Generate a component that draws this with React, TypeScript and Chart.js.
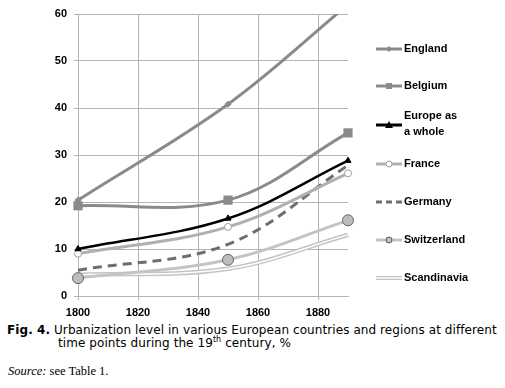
import React, { useEffect, useRef } from "react";
import { Chart, registerables } from "chart.js";

Chart.register(...registerables);

const years = [1800, 1850, 1890];
const england = [20.4, 40.8, 62];
const belgium = [19.2, 20.4, 34.7];
const europe = [10, 16.5, 28.8];
const france = [9, 14.7, 26.1];
const germany = [5.5, 11, 27.8];
const switzerland = [3.8, 7.7, 16.1];
const scandinavia = [4.5, 5.8, 13];
const seriesNames = ["England", "Belgium", "Europe as a whole", "France", "Germany", "Switzerland", "Scandinavia"];
const xTickValues = [1800, 1820, 1840, 1860, 1880];
const yTickValues = [0, 10, 20, 30, 40, 50, 60];

const pts = (vals: number[]) => vals.map((v, i) => ({ x: years[i], y: v }));

const TICK_FONT = { family: "'Liberation Sans', Arial, sans-serif", size: 11, weight: "bold" as const };

const legendItems = [
  { name: seriesNames[0], lines: ["England"], y: 49, color: "#8a8a8a", width: 3, marker: "diamond" },
  { name: seriesNames[1], lines: ["Belgium"], y: 86, color: "#8a8a8a", width: 3, marker: "square" },
  { name: seriesNames[2], lines: ["Europe as", "a whole"], y: 125, color: "#000000", width: 3, marker: "triangle" },
  { name: seriesNames[3], lines: ["France"], y: 164, color: "#b0b0b0", width: 3, marker: "whitecircle" },
  { name: seriesNames[4], lines: ["Germany"], y: 202, color: "#6e6e6e", width: 3, marker: "dash" },
  { name: seriesNames[5], lines: ["Switzerland"], y: 240, color: "#c4c4c4", width: 3, marker: "greycircle" },
  { name: seriesNames[6], lines: ["Scandinavia"], y: 278, color: "#c4c4c4", width: 4, marker: "double" },
];

const legendPlugin = {
  id: "customLegend",
  afterDraw(chart: any) {
    const ctx = chart.ctx as CanvasRenderingContext2D;
    ctx.save();
    const x0 = 376, x1 = 402, xm = 389;
    for (const it of legendItems) {
      ctx.setLineDash(it.marker === "dash" ? [6, 4] : []);
      ctx.lineCap = "butt";
      ctx.strokeStyle = it.color;
      ctx.lineWidth = it.width;
      ctx.beginPath();
      ctx.moveTo(x0, it.y);
      ctx.lineTo(x1, it.y);
      ctx.stroke();
      ctx.setLineDash([]);
      if (it.marker === "double") {
        ctx.strokeStyle = "#ffffff";
        ctx.lineWidth = 1.5;
        ctx.beginPath();
        ctx.moveTo(x0, it.y);
        ctx.lineTo(x1, it.y);
        ctx.stroke();
      } else if (it.marker === "diamond") {
        ctx.fillStyle = it.color;
        ctx.beginPath();
        ctx.moveTo(xm, it.y - 3);
        ctx.lineTo(xm + 3, it.y);
        ctx.lineTo(xm, it.y + 3);
        ctx.lineTo(xm - 3, it.y);
        ctx.closePath();
        ctx.fill();
      } else if (it.marker === "square") {
        ctx.fillStyle = it.color;
        ctx.fillRect(xm - 3, it.y - 3, 6, 6);
      } else if (it.marker === "triangle") {
        ctx.fillStyle = it.color;
        ctx.beginPath();
        ctx.moveTo(xm, it.y - 4);
        ctx.lineTo(xm + 4, it.y + 3);
        ctx.lineTo(xm - 4, it.y + 3);
        ctx.closePath();
        ctx.fill();
      } else if (it.marker === "whitecircle") {
        ctx.fillStyle = "#ffffff";
        ctx.strokeStyle = "#a0a0a0";
        ctx.lineWidth = 1;
        ctx.beginPath();
        ctx.arc(xm, it.y, 3, 0, Math.PI * 2);
        ctx.fill();
        ctx.stroke();
      } else if (it.marker === "greycircle") {
        ctx.fillStyle = "#c0c0c0";
        ctx.strokeStyle = "#555555";
        ctx.lineWidth = 1;
        ctx.beginPath();
        ctx.arc(xm, it.y, 3, 0, Math.PI * 2);
        ctx.fill();
        ctx.stroke();
      }
      ctx.fillStyle = "#000000";
      ctx.font = "bold 11px 'Liberation Sans', Arial, sans-serif";
      ctx.textAlign = "left";
      ctx.textBaseline = "middle";
      if (it.lines.length === 1) {
        ctx.fillText(it.lines[0], 404, it.y);
      } else {
        ctx.fillText(it.lines[0], 404, 116);
        ctx.fillText(it.lines[1], 404, 132);
      }
    }
    ctx.restore();
  },
};

const clipBox = { left: 10, top: 0, right: 10, bottom: 10 };

export default function App() {
  const canvasRef = useRef<HTMLCanvasElement | null>(null);

  useEffect(() => {
    if (!canvasRef.current) return;
    const base = { showLine: true, tension: 0.36, clip: clipBox, fill: false };
    const chart = new Chart(canvasRef.current, {
      type: "scatter",
      data: {
        datasets: [
          {
            ...base, label: seriesNames[2], data: pts(europe), borderColor: "#000000", borderWidth: 2.5,
            pointStyle: "triangle", pointRadius: 3.5, pointBackgroundColor: "#000000", pointBorderColor: "#000000", pointBorderWidth: 1, order: 1,
          },
          {
            ...base, label: seriesNames[1], data: pts(belgium), borderColor: "#8a8a8a", borderWidth: 3,
            pointStyle: "rect", pointRadius: 6.5, pointBackgroundColor: "#8a8a8a", pointBorderColor: "#8a8a8a", pointBorderWidth: 0, order: 2,
          },
          {
            ...base, label: seriesNames[0], data: pts(england), borderColor: "#8a8a8a", borderWidth: 3,
            pointStyle: "rectRot", pointRadius: 3.5, pointBackgroundColor: "#8a8a8a", pointBorderColor: "#8a8a8a", pointBorderWidth: 0, order: 3,
          },
          {
            ...base, label: seriesNames[3], data: pts(france), borderColor: "#b0b0b0", borderWidth: 3,
            pointStyle: "circle", pointRadius: 3.5, pointBackgroundColor: "#ffffff", pointBorderColor: "#a0a0a0", pointBorderWidth: 1, order: 4,
          },
          {
            ...base, label: seriesNames[4], data: pts(germany), borderColor: "#6e6e6e", borderWidth: 3, borderDash: [9, 6],
            pointRadius: 0, order: 5,
          },
          {
            ...base, label: seriesNames[5], data: pts(switzerland), borderColor: "#c4c4c4", borderWidth: 3,
            pointStyle: "circle", pointRadius: 5.5, pointBackgroundColor: "#bdbdbd", pointBorderColor: "#666666", pointBorderWidth: 1, order: 6,
          },
          {
            ...base, label: seriesNames[6] + " inner", data: pts(scandinavia), borderColor: "#ffffff", borderWidth: 1.5,
            pointRadius: 0, order: 7,
          },
          {
            ...base, label: seriesNames[6], data: pts(scandinavia), borderColor: "#c4c4c4", borderWidth: 4.5,
            pointRadius: 0, order: 8,
          },
        ],
      },
      options: {
        animation: false,
        responsive: false,
        maintainAspectRatio: false,
        layout: { padding: { left: 0, top: 14, right: 157, bottom: 0 } },
        plugins: { legend: { display: false }, tooltip: { enabled: false } },
        scales: {
          x: {
            type: "linear",
            min: 1800,
            max: 1890,
            grid: { color: "#b4b4b4", lineWidth: 1, tickLength: 4, drawTicks: true },
            border: { color: "#b4b4b4", width: 1 },
            ticks: {
              stepSize: 20,
              includeBounds: false,
              padding: 6,
              color: "#000000",
              font: TICK_FONT,
              maxRotation: 0,
              callback: (v: any) => (xTickValues.includes(Number(v)) ? String(v) : ""),
            },
            afterFit: (s: any) => { s.height = 24; },
          },
          y: {
            type: "linear",
            min: 0,
            max: 60,
            grid: { color: "#b4b4b4", lineWidth: 1, tickLength: 4, drawTicks: true },
            border: { color: "#b4b4b4", width: 1 },
            ticks: {
              stepSize: 10,
              padding: 7,
              color: "#000000",
              font: TICK_FONT,
              callback: (v: any) => (yTickValues.includes(Number(v)) ? String(v) : ""),
            },
            afterFit: (s: any) => { s.width = 78; },
          },
        },
      },
      plugins: [legendPlugin],
    });
    return () => chart.destroy();
  }, []);

  return (
    <div style={{ position: "absolute", left: 0, top: 0, width: 505, height: 388, background: "#ffffff" }}>
      <canvas ref={canvasRef} width={505} height={320} style={{ position: "absolute", left: 0, top: 0, width: 505, height: 320 }} />
      <div
        style={{
          position: "absolute",
          left: 7,
          top: 324,
          fontFamily: "'DejaVu Sans', Verdana, sans-serif",
          fontSize: 12,
          lineHeight: "13px",
          letterSpacing: "0.08px",
          whiteSpace: "nowrap",
          color: "#000",
        }}
      >
        <div>
          <b>Fig. 4.</b> Urbanization level in various European countries and regions at different
        </div>
        <div style={{ paddingLeft: 51 }}>
          time points during the 19<sup style={{ fontSize: 8, lineHeight: 0 }}>th</sup> century, %
        </div>
      </div>
      <div
        style={{
          position: "absolute",
          left: 8,
          top: 364,
          fontFamily: "'Liberation Serif', 'Times New Roman', serif",
          fontSize: 12.5,
          color: "#000",
        }}
      >
        <i>Source:</i> see Table 1.
      </div>
    </div>
  );
}
